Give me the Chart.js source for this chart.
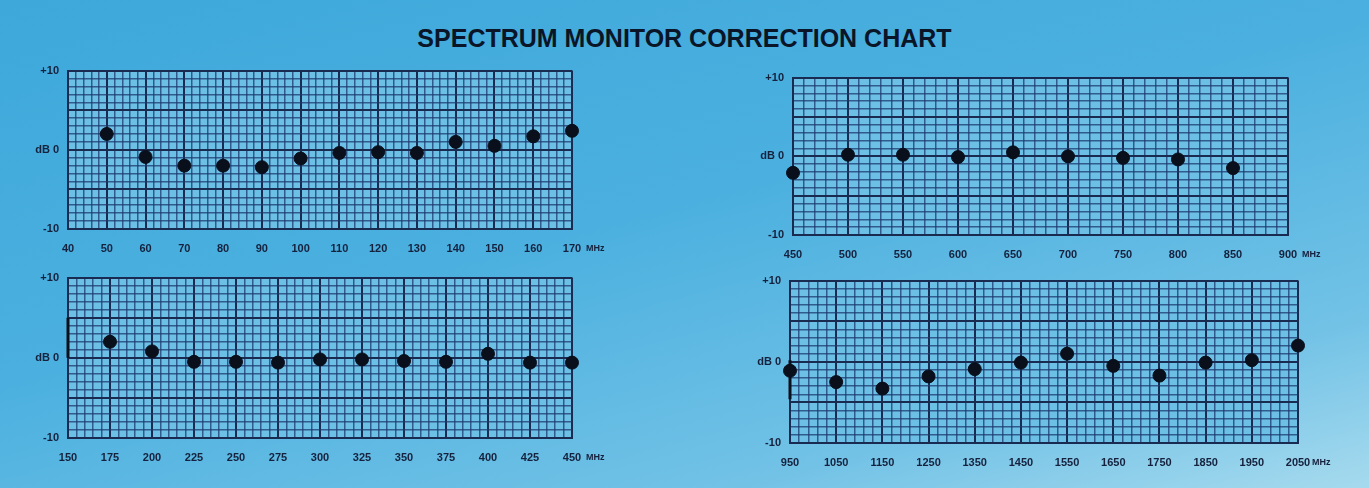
<!DOCTYPE html>
<html>
<head>
<meta charset="utf-8">
<script src="https://cdn.jsdelivr.net/npm/chart.js@4.4.1/dist/chart.umd.min.js"></script>
<style>
  html, body { margin: 0; padding: 0; }
  body {
    width: 1369px; height: 488px; overflow: hidden; position: relative;
    background: linear-gradient(165deg, #3ea8db 0%, #4bb0df 45%, #72c2e6 80%, #a6daee 100%);
    font-family: "Liberation Sans", Arial, sans-serif;
  }
  h1 {
    position: absolute; left: 0; top: 23px; width: 1369px; margin: 0;
    text-align: center; font-size: 25px; line-height: 30px; font-weight: bold; color: #0b1528;
  }
  .panel { position: absolute; }
</style>
</head>
<body>
<h1>SPECTRUM MONITOR CORRECTION CHART</h1>
<div class="panel" id="p1"><canvas id="c1"></canvas></div>
<div class="panel" id="p2"><canvas id="c2"></canvas></div>
<div class="panel" id="p3"><canvas id="c3"></canvas></div>
<div class="panel" id="p4"><canvas id="c4"></canvas></div>
<script>
// values (dB correction vs MHz)
const freqA = [50, 60, 70, 80, 90, 100, 110, 120, 130, 140, 150, 160, 170];
const dbA = [2.0, -0.9, -2.0, -2.0, -2.2, -1.1, -0.4, -0.3, -0.4, 1.0, 0.5, 1.7, 2.4];

const freqB = [450, 500, 550, 600, 650, 700, 750, 800, 850];
const dbB = [-2.1, 0.2, 0.2, -0.1, 0.5, 0.0, -0.2, -0.4, -1.5];

const freqC = [175, 200, 225, 250, 275, 300, 325, 350, 375, 400, 425, 450];
const dbC = [2.0, 0.8, -0.5, -0.5, -0.6, -0.2, -0.2, -0.4, -0.5, 0.5, -0.6, -0.6];

const freqD = [950, 1050, 1150, 1250, 1350, 1450, 1550, 1650, 1750, 1850, 1950, 2050];
const dbD = [-1.1, -2.5, -3.3, -1.8, -0.9, -0.1, 1.0, -0.5, -1.7, -0.1, 0.2, 2.0];

// hand drawn brackets on the left edge of the lower charts
const bracketC = [[150, 0], [150, 5]];
const bracketD = [[950, 0.2], [950, -4.6]];

// axis ranges: [min, max, labelled step]
const rangeA = [40, 170, 10];
const rangeB = [450, 900, 50];
const rangeC = [150, 450, 25];
const rangeD = [950, 2050, 100];
const yTicks = { '10': '+10', '0': 'dB 0', '-10': '-10' };

const INK = '#15213d';
const MAJOR = '#1a2b52';
const MINOR = 'rgba(28, 58, 110, 0.75)';

const plotFill = {
  id: 'plotFill',
  beforeDraw(chart) {
    const a = chart.chartArea, ctx = chart.ctx;
    ctx.save();
    ctx.fillStyle = '#6cc0e6';
    ctx.fillRect(a.left, a.top, a.right - a.left, a.bottom - a.top);
    ctx.restore();
  },
  afterDraw(chart) {
    const x = chart.scales.x, ctx = chart.ctx;
    ctx.save();
    ctx.fillStyle = INK;
    ctx.font = 'bold 9px "Liberation Sans", Arial, sans-serif';
    ctx.textBaseline = 'middle';
    ctx.fillText('MHz', x.right + 14, chart.chartArea.bottom + 20);
    ctx.restore();
  }
};

function makeChart(id, panelId, box, range, xs, ys, bracket) {
  const [pl, pt, pr, pb] = box;
  const w = (pr - pl) + 60 + 50, h = (pb - pt) + 10 + 34;
  const panel = document.getElementById(panelId);
  panel.style.left = (pl - 60) + 'px';
  panel.style.top = (pt - 10) + 'px';
  const cv = document.getElementById(id);
  cv.width = w; cv.height = h;

  const [xmin, xmax, step] = range;
  const minor = step / 5;
  const isMajorX = v => Math.abs((v - xmin) / step - Math.round((v - xmin) / step)) < 1e-6;
  const isMajorY = v => v % 5 === 0;

  const datasets = [{
    type: 'scatter',
    data: xs.map((x, i) => ({ x: x, y: ys[i] })),
    pointRadius: 6.5,
    pointHoverRadius: 6.5,
    pointBackgroundColor: '#0a0f1c',
    pointBorderColor: '#0a0f1c',
    showLine: false,
    clip: false
  }];
  if (bracket) {
    datasets.push({
      type: 'line',
      data: bracket.map(p => ({ x: p[0], y: p[1] })),
      borderColor: '#0a0f1c',
      borderWidth: 3,
      pointRadius: 0,
      clip: false
    });
  }

  return new Chart(cv, {
    data: { datasets },
    plugins: [plotFill],
    options: {
      responsive: false,
      devicePixelRatio: 1,
      animation: false,
      layout: { padding: { top: 10, right: 50, left: 0, bottom: 0 } },
      plugins: { legend: { display: false }, tooltip: { enabled: false } },
      scales: {
        x: {
          type: 'linear', min: xmin, max: xmax,
          afterBuildTicks(scale) {
            const t = [];
            for (let v = xmin; v <= xmax + 1e-6; v += minor) t.push({ value: Math.round(v * 100) / 100 });
            scale.ticks = t;
          },
          afterFit(scale) { scale.height = 34; },
          ticks: {
            autoSkip: false, maxRotation: 0, padding: 13, color: INK,
            font: { family: '"Liberation Sans", Arial, sans-serif', size: 11, weight: 'bold' },
            callback: v => isMajorX(v) ? String(v) : ''
          },
          grid: {
            drawTicks: false,
            color: c => c.tick && isMajorX(c.tick.value) ? MAJOR : MINOR,
            lineWidth: c => c.tick && isMajorX(c.tick.value) ? 2 : 1.5
          },
          border: { display: true, color: MAJOR, width: 2 }
        },
        y: {
          type: 'linear', min: -10, max: 10,
          afterBuildTicks(scale) {
            const t = [];
            for (let v = -10; v <= 10; v++) t.push({ value: v });
            scale.ticks = t;
          },
          afterFit(scale) { scale.width = 60; },
          ticks: {
            autoSkip: false, padding: 9, color: INK,
            font: { family: '"Liberation Sans", Arial, sans-serif', size: 11, weight: 'bold' },
            callback: v => yTicks[String(v)] || ''
          },
          grid: {
            drawTicks: false,
            color: c => c.tick && isMajorY(c.tick.value) ? MAJOR : MINOR,
            lineWidth: c => c.tick && isMajorY(c.tick.value) ? 2 : 1.5
          },
          border: { display: true, color: MAJOR, width: 2 }
        }
      }
    }
  });
}

makeChart('c1', 'p1', [68, 65, 572, 229], rangeA, freqA, dbA);
makeChart('c2', 'p2', [793, 72, 1288, 235], rangeB, freqB, dbB);
makeChart('c3', 'p3', [68, 272, 572, 438], rangeC, freqC, dbC, bracketC);
makeChart('c4', 'p4', [790, 275, 1298, 443], rangeD, freqD, dbD, bracketD);
</script>
</body>
</html>
